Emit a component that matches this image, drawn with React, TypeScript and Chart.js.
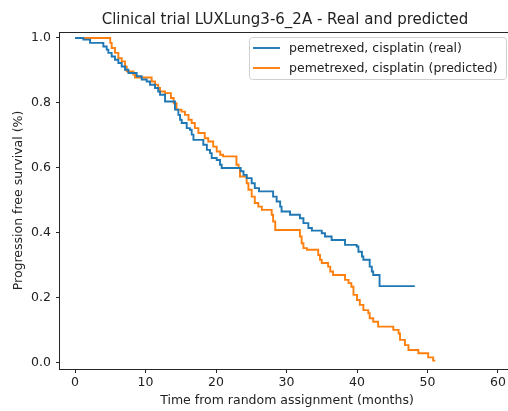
import { useEffect, useRef } from "react";
import { Chart, registerables } from "chart.js";

Chart.register(...registerables);

// Kaplan-Meier step data: time (months) and survival fraction after each event
const realTimes = [
  0, 1.18, 2.13, 4.02, 4.49, 4.73, 5.2, 5.67, 6.15, 6.62, 7.09, 7.57, 8.75, 9.46,
  10.17, 10.64, 11.35, 11.8, 12.06, 12.77, 14.18, 14.66, 14.9, 15.13, 15.84, 16.3,
  16.55, 16.8, 18.2, 18.7, 19.15, 19.39, 20.1, 20.57, 20.8, 23.5, 23.9, 24.35, 25.06,
  25.5, 26.1, 28.1, 28.6, 29.1, 29.3, 30.5, 31.9, 32.4, 33.1, 33.6, 35.0, 35.46, 36.4,
  38.3, 39.96, 40.2, 40.7, 40.9, 41.8, 42.1, 42.3, 43.2, 48.2,
];
const realSurvival = [
  1.0, 0.995, 0.985, 0.974, 0.964, 0.954, 0.943, 0.933, 0.923, 0.912, 0.902, 0.892,
  0.882, 0.872, 0.866, 0.856, 0.846, 0.835, 0.825, 0.804, 0.779, 0.763, 0.748, 0.738,
  0.722, 0.717, 0.702, 0.686, 0.671, 0.655, 0.645, 0.63, 0.624, 0.609, 0.599, 0.589,
  0.578, 0.568, 0.552, 0.537, 0.527, 0.511, 0.496, 0.48, 0.465, 0.455, 0.444, 0.429,
  0.414, 0.406, 0.398, 0.388, 0.377, 0.362, 0.357, 0.341, 0.326, 0.316, 0.295, 0.28,
  0.269, 0.235, 0.235,
];

const predTimes = [
  0, 5.0, 5.2, 5.67, 6.15, 6.62, 7.09, 7.33, 8.28, 8.51, 10.87, 11.35, 11.8, 12.06,
  12.77, 13.6, 14.0, 14.4, 15.1, 15.6, 16.1, 16.55, 17.0, 17.5, 18.4, 18.9, 19.6, 20.1,
  20.6, 21.0, 22.9, 23.2, 23.4, 24.35, 24.6, 25.06, 25.5, 26.0, 26.5, 27.9, 28.1, 28.4,
  31.9, 32.15, 32.4, 32.9, 34.5, 34.75, 35.0, 35.9, 36.2, 36.6, 38.3, 38.8, 39.2, 39.5,
  40.0, 40.4, 40.9, 41.6, 41.8, 42.3, 43.0, 45.15, 45.9, 46.1, 46.8, 47.3, 48.7, 50.1,
  50.8, 51.1,
];
const predSurvival = [
  1.0, 0.985, 0.969, 0.954, 0.938, 0.928, 0.912, 0.897, 0.887, 0.878, 0.866, 0.856,
  0.846, 0.835, 0.83, 0.815, 0.799, 0.779, 0.773, 0.763, 0.748, 0.738, 0.722, 0.707,
  0.691, 0.681, 0.665, 0.65, 0.64, 0.635, 0.609, 0.599, 0.573, 0.552, 0.532, 0.511,
  0.491, 0.48, 0.47, 0.455, 0.434, 0.408, 0.388, 0.367, 0.352, 0.347, 0.331, 0.316,
  0.306, 0.295, 0.28, 0.269, 0.254, 0.244, 0.233, 0.208, 0.192, 0.177, 0.161, 0.151,
  0.136, 0.125, 0.11, 0.1, 0.089, 0.069, 0.053, 0.038, 0.028, 0.015, 0.005, 0.005,
];

const seriesLabels = [
  "pemetrexed, cisplatin (real)",
  "pemetrexed, cisplatin (predicted)",
];
const seriesColors = ["#1f77b4", "#ff7f0e"];

const xTicks = [0, 10, 20, 30, 40, 50, 60];
const yTicks = [0, 0.2, 0.4, 0.6, 0.8, 1.0];

const chartTitle = "Clinical trial LUXLung3-6_2A - Real and predicted";
const xTitle = "Time from random assignment (months)";
const yTitle = "Progression free survival (%)";

const FONT = "'DejaVu Sans', sans-serif";
const TEXT = "#222";
const LABEL_SIZE = 12.5;
const CANVAS_W = 514;
const CANVAS_H = 411;

const toPoints = (xs: number[], ys: number[]) => xs.map((x, i) => ({ x, y: ys[i] }));

// Axes frame, title and boxed legend drawn on top of the chart
const framePlugin = {
  id: "frame",
  afterDraw(chart: any) {
    const { ctx, chartArea } = chart;
    const { left, right, top, bottom } = chartArea;
    ctx.save();
    ctx.strokeStyle = "#262626";
    ctx.lineWidth = 1;
    ctx.beginPath();
    ctx.moveTo(Math.round(left) - 0.5, top);
    ctx.lineTo(Math.round(left) - 0.5, bottom + 1);
    ctx.moveTo(left - 1, Math.round(bottom) + 0.5);
    ctx.lineTo(right, Math.round(bottom) + 0.5);
    ctx.moveTo(left - 1, Math.round(top) + 0.5);
    ctx.lineTo(right, Math.round(top) + 0.5);
    ctx.stroke();

    // title, centred over the visible part of the axes
    ctx.fillStyle = TEXT;
    ctx.font = `15px ${FONT}`;
    ctx.textAlign = "center";
    ctx.textBaseline = "middle";
    ctx.fillText(chartTitle, 285, 20);

    // legend
    const lx = 249.5, ly = 37.5, lw = 257, lh = 42, r = 3;
    ctx.beginPath();
    ctx.moveTo(lx + r, ly);
    ctx.lineTo(lx + lw - r, ly);
    ctx.arcTo(lx + lw, ly, lx + lw, ly + r, r);
    ctx.lineTo(lx + lw, ly + lh - r);
    ctx.arcTo(lx + lw, ly + lh, lx + lw - r, ly + lh, r);
    ctx.lineTo(lx + r, ly + lh);
    ctx.arcTo(lx, ly + lh, lx, ly + lh - r, r);
    ctx.lineTo(lx, ly + r);
    ctx.arcTo(lx, ly, lx + r, ly, r);
    ctx.closePath();
    ctx.fillStyle = "rgba(255,255,255,0.8)";
    ctx.fill();
    ctx.strokeStyle = "#d0d0d0";
    ctx.lineWidth = 1;
    ctx.stroke();

    ctx.font = `${LABEL_SIZE}px ${FONT}`;
    ctx.textAlign = "left";
    seriesLabels.forEach((label, i) => {
      const y = 48 + i * 20;
      ctx.strokeStyle = seriesColors[i];
      ctx.lineWidth = 1.9;
      ctx.beginPath();
      ctx.moveTo(253, y);
      ctx.lineTo(280, y);
      ctx.stroke();
      ctx.fillStyle = TEXT;
      ctx.fillText(label, 289, y + 0.5);
    });
    ctx.restore();
  },
};

export default function App() {
  const canvasRef = useRef<HTMLCanvasElement | null>(null);

  useEffect(() => {
    if (!canvasRef.current) return;
    const chart = new Chart(canvasRef.current, {
      type: "line",
      data: {
        datasets: [
          {
            label: seriesLabels[0],
            data: toPoints(realTimes, realSurvival),
            borderColor: seriesColors[0],
            borderWidth: 1.9,
            stepped: "before",
            pointRadius: 0,
            fill: false,
          },
          {
            label: seriesLabels[1],
            data: toPoints(predTimes, predSurvival),
            borderColor: seriesColors[1],
            borderWidth: 1.9,
            stepped: "before",
            pointRadius: 0,
            fill: false,
          },
        ],
      },
      options: {
        animation: false,
        responsive: false,
        devicePixelRatio: 1,
        layout: { padding: { top: 32, left: 0, right: 0, bottom: 0 } },
        plugins: {
          legend: { display: false },
          title: { display: false },
          tooltip: { enabled: false },
        },
        scales: {
          x: {
            type: "linear",
            min: -2.13,
            max: 62.27,
            afterBuildTicks: (scale: any) => {
              scale.ticks = xTicks.map((v) => ({ value: v }));
            },
            afterFit: (scale: any) => {
              scale.height = 42;
            },
            grid: {
              drawOnChartArea: false,
              drawTicks: true,
              tickLength: 4,
              color: "#262626",
            },
            border: { display: false },
            ticks: {
              autoSkip: false,
              maxRotation: 0,
              padding: 2,
              color: TEXT,
              font: { family: FONT, size: LABEL_SIZE },
              callback: (v: any) => String(v),
            },
            title: {
              display: true,
              text: xTitle,
              color: TEXT,
              font: { family: FONT, size: LABEL_SIZE },
              padding: { top: 0, bottom: 2.5 },
            },
          },
          y: {
            type: "linear",
            min: -0.0207,
            max: 1.0185,
            afterBuildTicks: (scale: any) => {
              scale.ticks = yTicks.map((v) => ({ value: v }));
            },
            afterFit: (scale: any) => {
              scale.width = 60;
            },
            grid: {
              drawOnChartArea: false,
              drawTicks: true,
              tickLength: 4,
              color: "#262626",
            },
            border: { display: false },
            ticks: {
              autoSkip: false,
              padding: 5,
              color: TEXT,
              font: { family: FONT, size: LABEL_SIZE },
              callback: (v: any) => Number(v).toFixed(1),
            },
            title: {
              display: true,
              text: yTitle,
              color: TEXT,
              font: { family: FONT, size: LABEL_SIZE },
              padding: { top: 11, bottom: 0 },
            },
          },
        },
      },
      plugins: [framePlugin],
    });
    return () => chart.destroy();
  }, []);

  return (
    <div
      style={{
        position: "fixed",
        left: 0,
        top: 0,
        width: 508,
        height: 411,
        overflow: "hidden",
        background: "#fff",
      }}
    >
      <canvas ref={canvasRef} width={CANVAS_W} height={CANVAS_H} style={{ display: "block" }} />
    </div>
  );
}
